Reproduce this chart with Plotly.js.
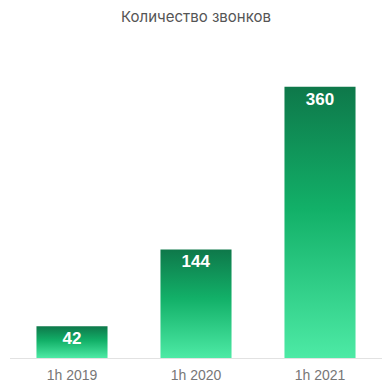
<!DOCTYPE html>
<html>
<head>
<meta charset="utf-8">
<script src="https://cdn.plot.ly/plotly-3.0.1.min.js"></script>
<style>html,body{margin:0;padding:0;background:#fff;}#chart{width:392px;height:382px;}</style>
</head>
<body>
<div id="chart"></div>
<script>
const categories = ["1h 2019", "1h 2020", "1h 2021"];
const calls = [42, 144, 360];
const chartTitle = "Количество звонков";

const trace = {
  type: "bar",
  x: categories,
  y: calls,
  text: calls.map(String),
  textposition: "inside",
  insidetextanchor: "end",
  textangle: 0,
  textfont: {family: "Liberation Sans, Arial, sans-serif", size: 17, color: "#ffffff", weight: "bold"},
  marker: {color: "#16b86b", line: {width: 0}},
  hoverinfo: "none",
  cliponaxis: false
};

const layout = {
  width: 392, height: 382,
  margin: {l: 10, r: 10, t: 40, b: 24, pad: 0},
  paper_bgcolor: "#ffffff", plot_bgcolor: "#ffffff",
  bargap: 0.427,
  showlegend: false,
  title: {text: chartTitle, x: 0.5, xanchor: "center", y: 0.955, yanchor: "middle",
          font: {family: "Inter, Roboto, sans-serif", size: 15, color: "#555555"}},
  xaxis: {showline: true, linecolor: "#e2e2e2", linewidth: 1, ticks: "", showgrid: false, zeroline: false,
          tickfont: {family: "Liberation Sans, Arial, sans-serif", size: 14, color: "#777777"}, ticklabelstandoff: 4},
  yaxis: {range: [0, 422], visible: false, showgrid: false, zeroline: false, fixedrange: true}
};

Plotly.newPlot("chart", [trace], layout, {staticPlot: true, displayModeBar: false}).then(function(gd){
  const svg = gd.querySelector("svg.main-svg");
  const ns = "http://www.w3.org/2000/svg";
  let defs = svg.querySelector("defs");
  if (!defs) { defs = document.createElementNS(ns, "defs"); svg.insertBefore(defs, svg.firstChild); }
  const grad = document.createElementNS(ns, "linearGradient");
  grad.setAttribute("id", "barGrad");
  grad.setAttribute("x1", "0"); grad.setAttribute("y1", "0");
  grad.setAttribute("x2", "0"); grad.setAttribute("y2", "1");
  [["0%", "#0e784a"], ["45%", "#12b068"], ["100%", "#4deaa5"]].forEach(function(s){
    const st = document.createElementNS(ns, "stop");
    st.setAttribute("offset", s[0]); st.setAttribute("stop-color", s[1]);
    grad.appendChild(st);
  });
  defs.appendChild(grad);
  gd.querySelectorAll(".trace.bars .point path").forEach(function(p){
    p.style.fill = "url(#barGrad)";
  });
});
</script>
</body>
</html>
